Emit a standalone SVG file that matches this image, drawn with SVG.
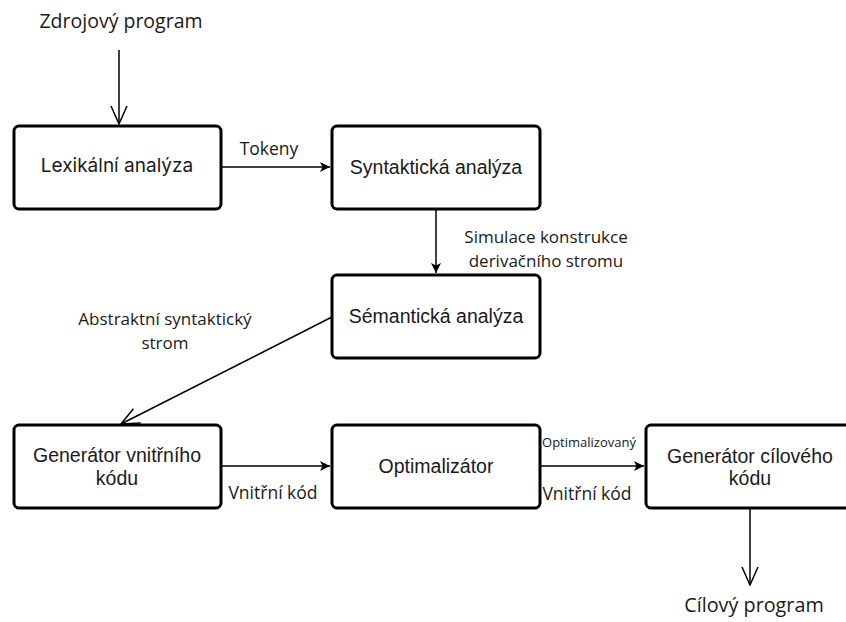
<svg xmlns="http://www.w3.org/2000/svg" width="846" height="622" viewBox="0 0 846 622">
<defs>
<style>
.box{fill:#fff;stroke:#000;stroke-width:3}
.bt{font-family:"Liberation Sans",Arial,sans-serif;font-size:19.5px;fill:#1a1a1a;text-anchor:middle}
.bi{font-family:Inter,"Liberation Sans",sans-serif;font-size:19px;fill:#1a1a1a;text-anchor:middle}
.lt{font-family:"Open Sans","Noto Sans",sans-serif;font-size:17px;fill:#1a1a1a;text-anchor:middle}
.ln{fill:none;stroke:#000;stroke-width:1.5}
</style>
<marker id="fa" viewBox="0 0 12 12" refX="11" refY="6" markerWidth="12" markerHeight="12" markerUnits="userSpaceOnUse" orient="auto">
<path d="M1,1 L11,6 L1,11 L3.5,6 Z" fill="#000"/>
</marker>
<marker id="oa" viewBox="0 0 20 20" refX="19" refY="10" markerWidth="20" markerHeight="20" markerUnits="userSpaceOnUse" orient="auto">
<path d="M1,2 L19,10 L1,18" fill="none" stroke="#000" stroke-width="1.5"/>
</marker>
</defs>
<rect width="846" height="622" fill="#fff"/>
<g id="connectors">
<line class="ln" x1="119" y1="50" x2="119" y2="124" marker-end="url(#oa)"/>
<line class="ln" x1="221" y1="167" x2="330" y2="167" marker-end="url(#fa)"/>
<line class="ln" x1="436" y1="209" x2="436" y2="273" marker-end="url(#fa)"/>
<line class="ln" x1="332" y1="317" x2="121" y2="424" marker-end="url(#oa)"/>
<line class="ln" x1="221" y1="466" x2="330" y2="466" marker-end="url(#fa)"/>
<line class="ln" x1="540" y1="466" x2="644" y2="466" marker-end="url(#fa)"/>
<line class="ln" x1="750" y1="508" x2="750" y2="585" marker-end="url(#oa)"/>
<text class="lt" x="269" y="155" style="font-size:17.5px">Tokeny</text>
<text class="lt" x="546" y="243">Simulace konstrukce</text>
<text class="lt" x="546" y="266.5">derivačního stromu</text>
<text class="lt" x="165" y="325">Abstraktní syntaktický</text>
<text class="lt" x="165" y="348.5">strom</text>
<text class="lt" x="273" y="499" style="font-size:17.5px">Vnitřní kód</text>
<text class="lt" x="589" y="447" style="font-size:13px">Optimalizovaný</text>
<text class="lt" x="587" y="500" style="font-size:17.5px">Vnitřní kód</text>
</g>
<g id="src"><text class="lt" x="121" y="28" style="font-size:19.5px">Zdrojový program</text></g>
<g id="dst"><text class="lt" x="754" y="612" style="font-size:19.8px">Cílový program</text></g>
<g id="lex"><rect class="box" x="14" y="126" width="207" height="83" rx="5"/><text class="bi" x="117" y="172">Lexikální analýza</text></g>
<g id="syn"><rect class="box" x="332" y="126" width="208" height="83" rx="5"/><text class="bt" x="436" y="174">Syntaktická analýza</text></g>
<g id="sem"><rect class="box" x="332" y="275" width="208" height="83" rx="5"/><text class="bt" x="436" y="323">Sémantická analýza</text></g>
<g id="gvk"><rect class="box" x="14" y="425" width="207" height="83" rx="5"/><text class="bt" x="117" y="462">Generátor vnitřního</text><text class="bt" x="117" y="485">kódu</text></g>
<g id="opt"><rect class="box" x="332" y="425" width="208" height="83" rx="5"/><text class="bt" x="436" y="473">Optimalizátor</text></g>
<g id="gck"><rect class="box" x="646" y="425" width="208" height="83" rx="5"/><text class="bt" x="750" y="463">Generátor cílového</text><text class="bt" x="750" y="485">kódu</text></g>
</svg>
